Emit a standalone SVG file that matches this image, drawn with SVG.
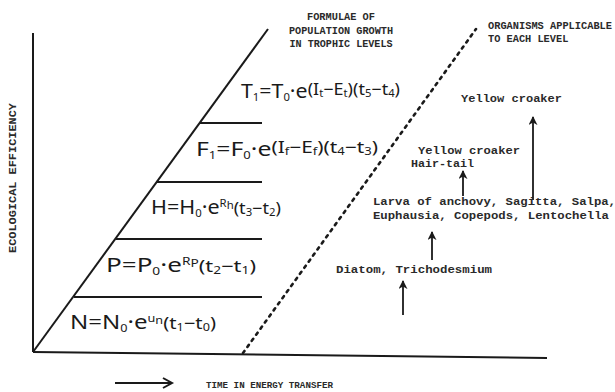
<svg xmlns="http://www.w3.org/2000/svg" width="615" height="392" viewBox="0 0 615 392">
<defs>
<style>
.ln{stroke:#1a1a1a;stroke-width:2;fill:none}
.dash{stroke:#1a1a1a;stroke-width:2.6;fill:none;stroke-dasharray:2.5 5;stroke-linecap:round}
.f{font-family:"Noto Sans","Liberation Sans",sans-serif;font-size:19px;fill:#1a1a1a}
.s{font-size:10px}
.e{font-size:16px}
.ss{font-size:10px}
.m{font-family:"Liberation Mono","Courier New",monospace;font-weight:bold;fill:#2a2a2a}
.hd{font-size:10.3px}
.org{font-size:11.5px}
.arr{stroke:#1a1a1a;stroke-width:1.8;fill:none}
</style>
<marker id="ah" viewBox="0 0 10 10" refX="9" refY="5" markerWidth="9" markerHeight="9" markerUnits="userSpaceOnUse" orient="auto">
<path d="M0,0 L10,5 L0,10 L3,5 Z" fill="#1a1a1a"/>
</marker>
</defs>
<rect width="615" height="392" fill="#ffffff"/>

<g id="axes">
<line class="ln" x1="33" y1="33" x2="33" y2="352"/>
<line class="ln" x1="33" y1="352" x2="547" y2="358"/>
<line class="ln" x1="33" y1="352" x2="268" y2="29"/>
<line class="dash" x1="243" y1="353" x2="476" y2="29"/>
<line class="ln" x1="199" y1="123" x2="262" y2="123"/>
<line class="ln" x1="157" y1="182" x2="262" y2="182"/>
<line class="ln" x1="116" y1="239" x2="262" y2="239"/>
<line class="ln" x1="74" y1="297" x2="262" y2="297"/>
</g>

<g id="labels">
<text class="m" font-size="11" transform="translate(16,178) rotate(-90)" text-anchor="middle" textLength="150" lengthAdjust="spacingAndGlyphs">ECOLOGICAL EFFICIENCY</text>
<text class="m" font-size="9.2" x="206" y="388" textLength="127" lengthAdjust="spacingAndGlyphs">TIME IN ENERGY TRANSFER</text>
<g id="time-arrow">
<line class="ln" x1="115" y1="383" x2="171" y2="383" stroke-width="1.8"/>
<polyline class="ln" points="163,378 172,383 163,388" stroke-width="1.8"/>
</g>
<text class="m hd" text-anchor="middle" x="341" y="20">FORMULAE OF</text>
<text class="m hd" text-anchor="middle" x="341" y="34" textLength="104" lengthAdjust="spacingAndGlyphs">POPULATION GROWTH</text>
<text class="m hd" text-anchor="middle" x="341" y="47" textLength="103" lengthAdjust="spacingAndGlyphs">IN TROPHIC LEVELS</text>
<text class="m hd" x="488" y="29" textLength="124" lengthAdjust="spacingAndGlyphs">ORGANISMS APPLICABLE</text>
<text class="m hd" x="488" y="42">TO EACH LEVEL</text>
</g>

<g id="formula-T">
<text class="f" x="241" y="98" textLength="159" lengthAdjust="spacingAndGlyphs">T<tspan class="s" dy="3">1</tspan><tspan dy="-3">=T</tspan><tspan class="s" dy="3">0</tspan><tspan dy="-3">·e</tspan><tspan class="e" dy="-3">(I</tspan><tspan class="ss" dy="2">t</tspan><tspan class="e" dy="-2">−E</tspan><tspan class="ss" dy="2">t</tspan><tspan class="e" dy="-2">)(t</tspan><tspan class="ss" dy="2">5</tspan><tspan class="e" dy="-2">−t</tspan><tspan class="ss" dy="2">4</tspan><tspan class="e" dy="-2">)</tspan></text>
</g>
<g id="formula-F">
<text class="f" x="196" y="156" textLength="182" lengthAdjust="spacingAndGlyphs">F<tspan class="s" dy="3">1</tspan><tspan dy="-3">=F</tspan><tspan class="s" dy="3">0</tspan><tspan dy="-3">·e</tspan><tspan class="e" dy="-3">(I</tspan><tspan class="ss" dy="2">f</tspan><tspan class="e" dy="-2">−E</tspan><tspan class="ss" dy="2">f</tspan><tspan class="e" dy="-2">)(t</tspan><tspan class="ss" dy="2">4</tspan><tspan class="e" dy="-2">−t</tspan><tspan class="ss" dy="2">3</tspan><tspan class="e" dy="-2">)</tspan></text>
</g>
<g id="formula-H">
<text class="f" x="151" y="214" textLength="130" lengthAdjust="spacingAndGlyphs">H=H<tspan class="s" dy="3">0</tspan><tspan dy="-3">·e</tspan><tspan class="s" dy="-7">R</tspan><tspan class="ss" dy="2">h</tspan><tspan class="e" dy="5">(t</tspan><tspan class="ss" dy="2">3</tspan><tspan class="e" dy="-2">−t</tspan><tspan class="ss" dy="2">2</tspan><tspan class="e" dy="-2">)</tspan></text>
</g>
<g id="formula-P">
<text class="f" x="106" y="272" textLength="150" lengthAdjust="spacingAndGlyphs">P=P<tspan class="s" dy="3">0</tspan><tspan dy="-3">·e</tspan><tspan class="s" dy="-7">R</tspan><tspan class="ss" dy="2">P</tspan><tspan class="e" dy="5">(t</tspan><tspan class="ss" dy="2">2</tspan><tspan class="e" dy="-2">−t</tspan><tspan class="ss" dy="2">1</tspan><tspan class="e" dy="-2">)</tspan></text>
</g>
<g id="formula-N">
<text class="f" x="70" y="329" textLength="146" lengthAdjust="spacingAndGlyphs">N=N<tspan class="s" dy="3">0</tspan><tspan dy="-3">·e</tspan><tspan class="s" dy="-7">u</tspan><tspan class="ss" dy="2">n</tspan><tspan class="e" dy="5">(t</tspan><tspan class="ss" dy="2">1</tspan><tspan class="e" dy="-2">−t</tspan><tspan class="ss" dy="2">0</tspan><tspan class="e" dy="-2">)</tspan></text>
</g>

<g id="org-top">
<text class="m org" x="461" y="102" textLength="101" lengthAdjust="spacingAndGlyphs">Yellow croaker</text>
</g>
<g id="org-fish">
<text class="m org" x="418" y="154" textLength="102" lengthAdjust="spacingAndGlyphs">Yellow croaker</text>
<text class="m org" x="411" y="167" textLength="63" lengthAdjust="spacingAndGlyphs">Hair-tail</text>
</g>
<g id="org-zoo">
<text class="m org" x="373" y="205" textLength="243" lengthAdjust="spacingAndGlyphs">Larva of anchovy, Sagitta, Salpa,</text>
<text class="m org" x="373" y="219" textLength="236" lengthAdjust="spacingAndGlyphs">Euphausia, Copepods, Lentochella</text>
</g>
<g id="org-phyto">
<text class="m org" x="336" y="273" textLength="156" lengthAdjust="spacingAndGlyphs">Diatom, Trichodesmium</text>
</g>

<g id="connectors">
<line class="arr" x1="403" y1="315" x2="403" y2="281" marker-end="url(#ah)"/>
<line class="arr" x1="432" y1="260" x2="432" y2="232" marker-end="url(#ah)"/>
<line class="arr" x1="463" y1="196" x2="463" y2="171" marker-end="url(#ah)"/>
<line class="arr" x1="533" y1="200" x2="533" y2="117" marker-end="url(#ah)"/>
</g>
</svg>
